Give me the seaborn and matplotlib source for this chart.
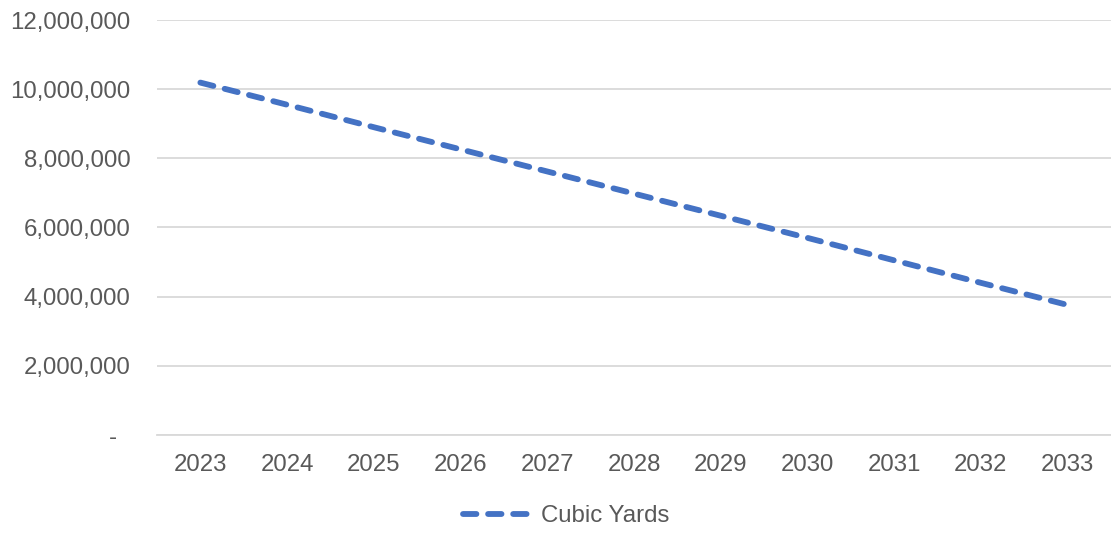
import matplotlib
matplotlib.use("Agg")
import matplotlib.pyplot as plt
import seaborn as sns
import pandas as pd
from matplotlib.ticker import FuncFormatter

# values
years = ["2023", "2024", "2025", "2026", "2027", "2028", "2029", "2030", "2031", "2032", "2033"]
cubic_yards = [10190000, 9550000, 8900000, 8260000, 7620000, 6980000, 6340000, 5700000, 5050000, 4400000, 3760000]
y_ticks = [0, 2000000, 4000000, 6000000, 8000000, 10000000, 12000000]

df = pd.DataFrame({"Year": years, "Cubic Yards": cubic_yards})

sns.set_style("white")
plt.rcParams["font.family"] = ["Liberation Sans", "DejaVu Sans"]

fig = plt.figure(figsize=(11.11, 5.34), dpi=100)
ax = fig.add_axes([157 / 1111, 1 - 435 / 534, (1111 - 157) / 1111, (435 - 20) / 534])

sns.lineplot(data=df, x="Year", y="Cubic Yards", ax=ax, color="#4472C4", linewidth=4.2,
             label="Cubic Yards", sort=False)
line = ax.get_lines()[0]
line.set_dashes((2.3, 2.0))
line.set_dash_capstyle("round")

ax.set_xlim(-0.5, len(years) - 0.5)
ax.set_ylim(0, 12000000)
ax.set_yticks(y_ticks)
ax.yaxis.set_major_formatter(FuncFormatter(lambda v, p: "-\u2007" if v == 0 else f"{v:,.0f}"))
ax.grid(axis="y", color="#D9D9D9", linewidth=1.3)
ax.set_axisbelow(True)
for s in ["top", "right", "left"]:
    ax.spines[s].set_visible(False)
ax.spines["bottom"].set_color("#D9D9D9")
ax.spines["bottom"].set_linewidth(1.3)
ax.tick_params(axis="both", length=0, labelsize=17.3, colors="#595959")
ax.tick_params(axis="y", pad=19)
ax.tick_params(axis="x", pad=14)
ax.set_xlabel("")
ax.set_ylabel("")

ax.get_legend().remove()
fig.legend(handles=[line], labels=["Cubic Yards"], loc="center", bbox_to_anchor=(566 / 1111, 1 - 516 / 534),
           frameon=False, fontsize=17.3, labelcolor="#595959", handlelength=2.7, handletextpad=0.55)

fig.savefig("out.png", dpi=100)
